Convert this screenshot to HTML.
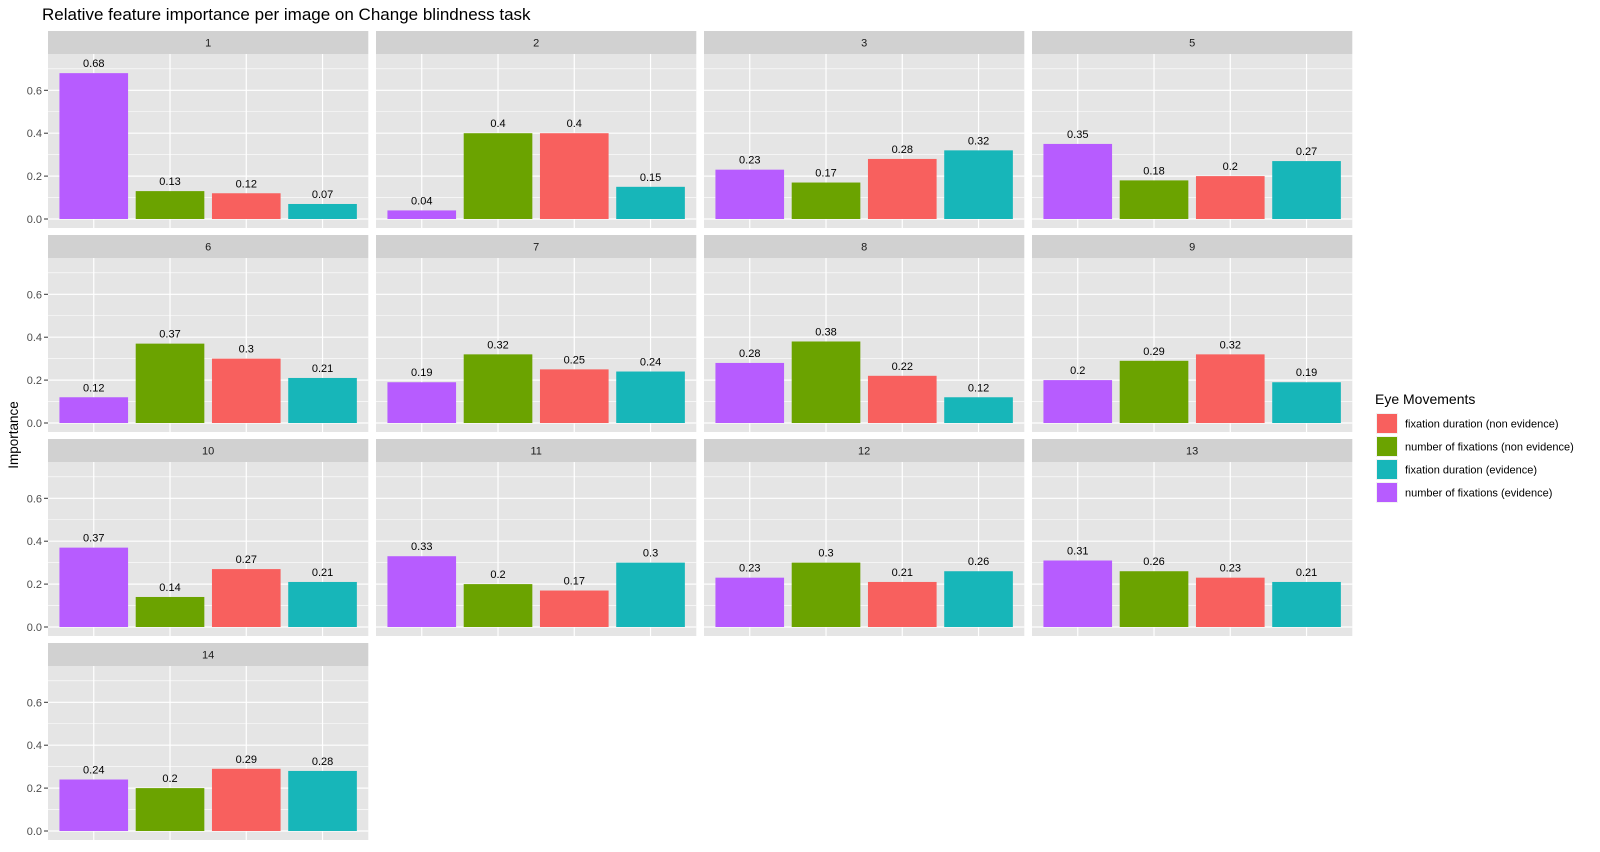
<!DOCTYPE html>
<html><head><meta charset="utf-8"><style>
html,body{margin:0;padding:0;background:#fff}
svg{display:block;font-family:"Liberation Sans",Arial,sans-serif}
</style></head><body>
<svg id="chart" width="1600" height="852" viewBox="0 0 1600 852">
<text x="42" y="20" font-size="17" fill="#000">Relative feature importance per image on Change blindness task</text>
<text transform="translate(18,435) rotate(-90)" text-anchor="middle" font-size="13.5" fill="#000">Importance</text>
<g id="panels"></g>
<g id="legend"></g>
</svg>
<script>
const panelLabels = ["1","2","3","5","6","7","8","9","10","11","12","13","14"];
const seriesNames = ["number of fixations (evidence)","number of fixations (non evidence)","fixation duration (non evidence)","fixation duration (evidence)"];
const seriesColors = ["#B75CFF","#6BA300","#F8605E","#17B6B9"];
const numFixEvidence = [0.68,0.04,0.23,0.35,0.12,0.19,0.28,0.2,0.37,0.33,0.23,0.31,0.24];
const numFixNonEvidence = [0.13,0.4,0.17,0.18,0.37,0.32,0.38,0.29,0.14,0.2,0.3,0.26,0.2];
const durNonEvidence = [0.12,0.4,0.28,0.2,0.3,0.25,0.22,0.32,0.27,0.17,0.21,0.23,0.29];
const durEvidence = [0.07,0.15,0.32,0.27,0.21,0.24,0.12,0.19,0.21,0.3,0.26,0.21,0.28];
const labelsEvidence = ["0.68","0.04","0.23","0.35","0.12","0.19","0.28","0.2","0.37","0.33","0.23","0.31","0.24"];
const labelsNonEvidenceNum = ["0.13","0.4","0.17","0.18","0.37","0.32","0.38","0.29","0.14","0.2","0.3","0.26","0.2"];
const labelsNonEvidenceDur = ["0.12","0.4","0.28","0.2","0.3","0.25","0.22","0.32","0.27","0.17","0.21","0.23","0.29"];
const labelsDurEvidence = ["0.07","0.15","0.32","0.27","0.21","0.24","0.12","0.19","0.21","0.3","0.26","0.21","0.28"];
const yTicks = [0,0.2,0.4,0.6];
const yTickLabels = ["0.0","0.2","0.4","0.6"];
const yMinor = [0.1,0.3,0.5,0.7];
const legendOrder = [2,1,3,0];

const NS="http://www.w3.org/2000/svg";
const series=[numFixEvidence,numFixNonEvidence,durNonEvidence,durEvidence];
const labels=[labelsEvidence,labelsNonEvidenceNum,labelsNonEvidenceDur,labelsDurEvidence];
const PX0=48,PW=320.3,PPITCH=328,SY0=31,RPITCH=204,SH=23,PH=174,ZERO=188,SCALE=214.5;
function mk(t,a,p){const e=document.createElementNS(NS,t);for(const k in a)e.setAttribute(k,a[k]);p.appendChild(e);return e;}
const root=document.getElementById('panels');
panelLabels.forEach((lab,i)=>{
  const col=i%4,row=Math.floor(i/4);
  const x0=PX0+col*PPITCH, sy=SY0+row*RPITCH, py=sy+SH;
  const yS=v=>sy+ZERO-v*SCALE;
  const xS=c=>x0+(c+1-0.4)*PW/4.2;
  const g=mk('g',{},root);
  
  
  const strip=mk('rect',{x:x0,y:sy,width:PW,height:SH,fill:'#D1D1D1'},g);
  
  
  const st=mk('text',{x:x0+PW/2,y:sy+15.5,'text-anchor':'middle','font-size':'11',fill:'#1a1a1a'},g);
  st.textContent=lab;
  
  
  mk('rect',{x:x0,y:py,width:PW,height:PH,fill:'#E5E5E5'},g);
  yMinor.forEach(v=>mk('line',{x1:x0,x2:x0+PW,y1:yS(v),y2:yS(v),stroke:'#fff','stroke-width':0.6},g));
  yTicks.forEach(v=>mk('line',{x1:x0,x2:x0+PW,y1:yS(v),y2:yS(v),stroke:'#fff','stroke-width':1.2},g));
  for(let c=0;c<4;c++)mk('line',{x1:xS(c),x2:xS(c),y1:py,y2:py+PH,stroke:'#fff','stroke-width':1.2},g);
  if(col===0){
    yTicks.forEach((v,k)=>{
      mk('line',{x1:x0-4,x2:x0,y1:yS(v),y2:yS(v),stroke:'#333','stroke-width':1},g);
      const t=mk('text',{x:x0-6,y:yS(v)+4,'text-anchor':'end','font-size':'11',fill:'#4d4d4d'},g);
      t.textContent=yTickLabels[k];
      
      
    });
  }
  for(let s=0;s<4;s++){
    const v=series[s][i];
    const bw=0.9*PW/4.2;
    const r=mk('rect',{x:xS(s)-bw/2,y:yS(v),width:bw,height:v*SCALE,fill:seriesColors[s]},g);
    
    
    const t=mk('text',{x:xS(s),y:yS(v)-6,'text-anchor':'middle','font-size':'11',fill:'#000'},g);
    t.textContent=labels[s][i];
    
    
  }
});
const lg=document.getElementById('legend');
const tt=mk('text',{x:1375,y:404,'font-size':'14',fill:'#000'},lg);
tt.textContent='Eye Movements';


legendOrder.forEach((s,k)=>{
  const y=413+k*23;
  const e=mk('g',{},lg);
  
  
  mk('rect',{x:1376,y:y,width:22,height:21,fill:'#F2F2F2'},e);
  mk('rect',{x:1377,y:y+1,width:20,height:19,fill:seriesColors[s]},e);
  const t=mk('text',{x:1405,y:y+14.5,'font-size':'11',fill:'#000'},e);
  t.textContent=seriesNames[s];
});
</script>
</body></html>
